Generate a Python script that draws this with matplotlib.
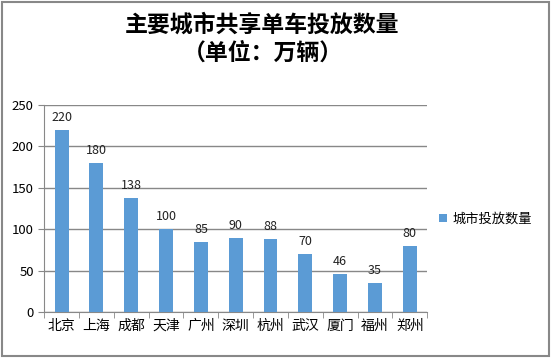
import matplotlib.pyplot as plt
from matplotlib.patches import Rectangle

plt.rcParams['font.family'] = ['Noto Sans CJK SC', 'DejaVu Sans']

cities = ['北京', '上海', '成都', '天津', '广州', '深圳', '杭州', '武汉', '厦门', '福州', '郑州']
counts = [220, 180, 138, 100, 85, 90, 88, 70, 46, 35, 80]
series_name = '城市投放数量'

fig = plt.figure(figsize=(5.52, 3.58), dpi=100)
ax = fig.add_axes([0.08, 0.128, 0.694, 0.579])

x = range(len(cities))
bars = ax.bar(x, counts, width=0.4, color='#5B9BD5', label=series_name, zorder=3)
for xi, v in zip(x, counts):
    ax.text(xi, v + 7, str(v), ha='center', va='bottom', fontsize=9, color='#222222')

ax.set_ylim(0, 250)
ax.set_xlim(-0.5, len(cities) - 0.5)
ax.set_yticks(range(0, 251, 50))
ax.yaxis.grid(True, color='#888888', linewidth=1, zorder=0)
ax.set_xticks(list(x))
ax.set_xticklabels(cities, fontsize=10)
ax.tick_params(axis='x', length=0, pad=5)
ax.set_xticks([i + 0.5 for i in range(-1, len(cities))], minor=True)
ax.tick_params(axis='x', which='minor', length=4, color='#888888')
ax.tick_params(axis='y', labelsize=9.5, length=4, color='#888888')
for s in ['top', 'right']:
    ax.spines[s].set_visible(False)
for s in ['left', 'bottom']:
    ax.spines[s].set_color('#888888')

ax.legend(loc='center left', bbox_to_anchor=(1.0, 0.45), frameon=False,
          fontsize=9.5, handlelength=0.6, handleheight=0.6, handletextpad=0.4)

fig.text(0.475, 0.93, '主要城市共享单车投放数量', ha='center', va='center',
         fontsize=16.5, fontweight='bold')
fig.text(0.477, 0.85, '（单位：万辆）', ha='center', va='center',
         fontsize=16.5, fontweight='bold')

fig.patches.append(Rectangle((0.004, 0.006), 0.99, 0.988, transform=fig.transFigure,
                             fill=False, edgecolor='#888888', linewidth=1.5))

fig.savefig('out.png', dpi=100)
